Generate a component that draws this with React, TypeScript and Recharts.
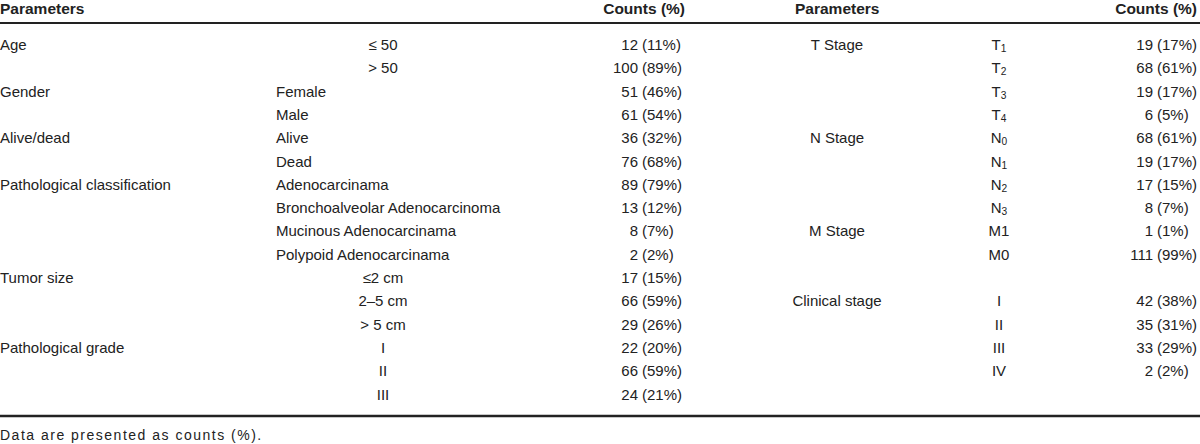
import React from "react";
import { ScatterChart, Scatter, XAxis, YAxis, ReferenceLine } from "recharts";

// ---------------- data ----------------
const headerLabels = ["Parameters", "Counts (%)"];

const leftGroupNames = ["Age", "Gender", "Alive/dead", "Pathological classification", "Tumor size", "Pathological grade"];
const leftGroupFirstRows = [0, 2, 4, 6, 10, 13];
const leftLabels = [
  "≤ 50", "> 50", "Female", "Male", "Alive", "Dead",
  "Adenocarcinama", "Bronchoalveolar Adenocarcinoma", "Mucinous Adenocarcinama", "Polypoid Adenocarcinama",
  "≤2 cm", "2–5 cm", "> 5 cm", "I", "II", "III",
];
const leftCounts = [12, 100, 51, 61, 36, 76, 89, 13, 8, 2, 17, 66, 29, 22, 66, 24];
const leftPercents = [11, 89, 46, 54, 32, 68, 79, 12, 7, 2, 15, 59, 26, 20, 59, 21];

const rightGroupNames = ["T Stage", "N Stage", "M Stage", "Clinical stage"];
const rightGroupFirstRows = [0, 4, 8, 11];
const rightRows = [0, 1, 2, 3, 4, 5, 6, 7, 8, 9, 11, 12, 13, 14];
const rightLabelMain = ["T", "T", "T", "T", "N", "N", "N", "N", "M1", "M0", "I", "II", "III", "IV"];
const rightLabelSub = ["1", "2", "3", "4", "0", "1", "2", "3", "", "", "", "", "", ""];
const rightCounts = [19, 68, 19, 6, 68, 19, 17, 8, 1, 111, 42, 35, 33, 2];
const rightPercents = [17, 61, 17, 5, 61, 17, 15, 7, 1, 99, 38, 31, 29, 2];

const footnote = "Data are presented as counts (%).";

// ---------------- layout ----------------
const W = 1200;
const H = 444;
const ROW0 = 44;
const ROW_H = 23.3;
const toRow = (px: number) => (px - ROW0) / ROW_H;
const Y_DOMAIN: [number, number] = [toRow(0), toRow(H)];
const HEADER_ROW = toRow(8);
const TOP_RULE = toRow(23);
const BOTTOM_RULE = toRow(416);
const NOTE_ROW = toRow(435);

const COL = {
  lGroup: 0,
  lLabelLeft: 276,
  lLabelCenter: 383,
  lCount: 638,
  lPct: 642,
  lHeadParam: 0,
  lHeadCount: 685,
  rHeadParam: 795,
  rHeadCount: 1197,
  rGroup: 837,
  rLabel: 999,
  rCount: 1153,
  rPct: 1157,
  note: 0,
};
const leftCenteredGroups = [0, 4, 5];

const FONT = "'Liberation Sans', Arial, Helvetica, sans-serif";
const INK = "#222";
const BODY = 15;

type Style = { anchor: "start" | "middle" | "end"; size: number; weight?: number; spacing?: number };

const textShape = (st: Style) => (props: any) => {
  const { cx, cy, payload } = props;
  if (cx == null || cy == null) return <g />;
  return (
    <text
      x={cx}
      y={cy}
      textAnchor={st.anchor}
      dominantBaseline="central"
      fontFamily={FONT}
      fontSize={st.size}
      fontWeight={st.weight ?? 400}
      letterSpacing={st.spacing ?? 0}
      fill={INK}
    >
      <tspan>{payload.text}</tspan>
      {payload.sub ? (
        <tspan fontSize={st.size * 0.68} dy={4}>
          {payload.sub}
        </tspan>
      ) : null}
    </text>
  );
};

// ---------------- derived tables ----------------
const groupOf = (row: number) => {
  let g = 0;
  leftGroupFirstRows.forEach((r, i) => {
    if (row >= r) g = i;
  });
  return g;
};

const headerStart = [
  { x: COL.lHeadParam, y: HEADER_ROW, text: headerLabels[0] },
  { x: COL.rHeadParam, y: HEADER_ROW, text: headerLabels[0] },
];
const headerEnd = [
  { x: COL.lHeadCount, y: HEADER_ROW, text: headerLabels[1] },
  { x: COL.rHeadCount, y: HEADER_ROW, text: headerLabels[1] },
];

const leftGroupData = leftGroupNames.map((n, i) => ({ x: COL.lGroup, y: leftGroupFirstRows[i], text: n }));
const leftLabelLeftData = leftLabels
  .map((t, i) => ({ t, i }))
  .filter((d) => !leftCenteredGroups.includes(groupOf(d.i)))
  .map((d) => ({ x: COL.lLabelLeft, y: d.i, text: d.t }));
const leftLabelCenterData = leftLabels
  .map((t, i) => ({ t, i }))
  .filter((d) => leftCenteredGroups.includes(groupOf(d.i)))
  .map((d) => ({ x: COL.lLabelCenter, y: d.i, text: d.t }));
const leftCountData = leftCounts.map((c, i) => ({ x: COL.lCount, y: i, text: String(c) }));
const leftPctData = leftPercents.map((p, i) => ({ x: COL.lPct, y: i, text: `(${p}%)` }));

const rightGroupData = rightGroupNames.map((n, i) => ({ x: COL.rGroup, y: rightGroupFirstRows[i], text: n }));
const rightLabelData = rightLabelMain.map((m, i) => ({ x: COL.rLabel, y: rightRows[i], text: m, sub: rightLabelSub[i] }));
const rightCountData = rightCounts.map((c, i) => ({ x: COL.rCount, y: rightRows[i], text: String(c) }));
const rightPctData = rightPercents.map((p, i) => ({ x: COL.rPct, y: rightRows[i], text: `(${p}%)` }));

const noteData = [{ x: COL.note, y: NOTE_ROW, text: footnote }];

export default function App() {
  return (
    <div style={{ position: "absolute", left: 0, top: 0, width: W, height: H, background: "#fff" }}>
      <ScatterChart width={W} height={H} margin={{ top: 0, right: 0, bottom: 0, left: 0 }}>
        <XAxis type="number" dataKey="x" domain={[0, W]} hide allowDataOverflow />
        <YAxis type="number" dataKey="y" domain={Y_DOMAIN} reversed hide allowDataOverflow />
        <ReferenceLine y={TOP_RULE} stroke={INK} strokeWidth={2} />
        <ReferenceLine y={BOTTOM_RULE} stroke={INK} strokeWidth={2.5} />
        <Scatter data={headerStart} shape={textShape({ anchor: "start", size: 15.5, weight: 700 })} isAnimationActive={false} />
        <Scatter data={headerEnd} shape={textShape({ anchor: "end", size: 15.5, weight: 700 })} isAnimationActive={false} />
        <Scatter data={leftGroupData} shape={textShape({ anchor: "start", size: BODY })} isAnimationActive={false} />
        <Scatter data={leftLabelLeftData} shape={textShape({ anchor: "start", size: BODY })} isAnimationActive={false} />
        <Scatter data={leftLabelCenterData} shape={textShape({ anchor: "middle", size: BODY })} isAnimationActive={false} />
        <Scatter data={leftCountData} shape={textShape({ anchor: "end", size: BODY })} isAnimationActive={false} />
        <Scatter data={leftPctData} shape={textShape({ anchor: "start", size: BODY })} isAnimationActive={false} />
        <Scatter data={rightGroupData} shape={textShape({ anchor: "middle", size: BODY })} isAnimationActive={false} />
        <Scatter data={rightLabelData} shape={textShape({ anchor: "middle", size: BODY })} isAnimationActive={false} />
        <Scatter data={rightCountData} shape={textShape({ anchor: "end", size: BODY })} isAnimationActive={false} />
        <Scatter data={rightPctData} shape={textShape({ anchor: "start", size: BODY })} isAnimationActive={false} />
        <Scatter data={noteData} shape={textShape({ anchor: "start", size: 14, spacing: 1.5 })} isAnimationActive={false} />
      </ScatterChart>
    </div>
  );
}
